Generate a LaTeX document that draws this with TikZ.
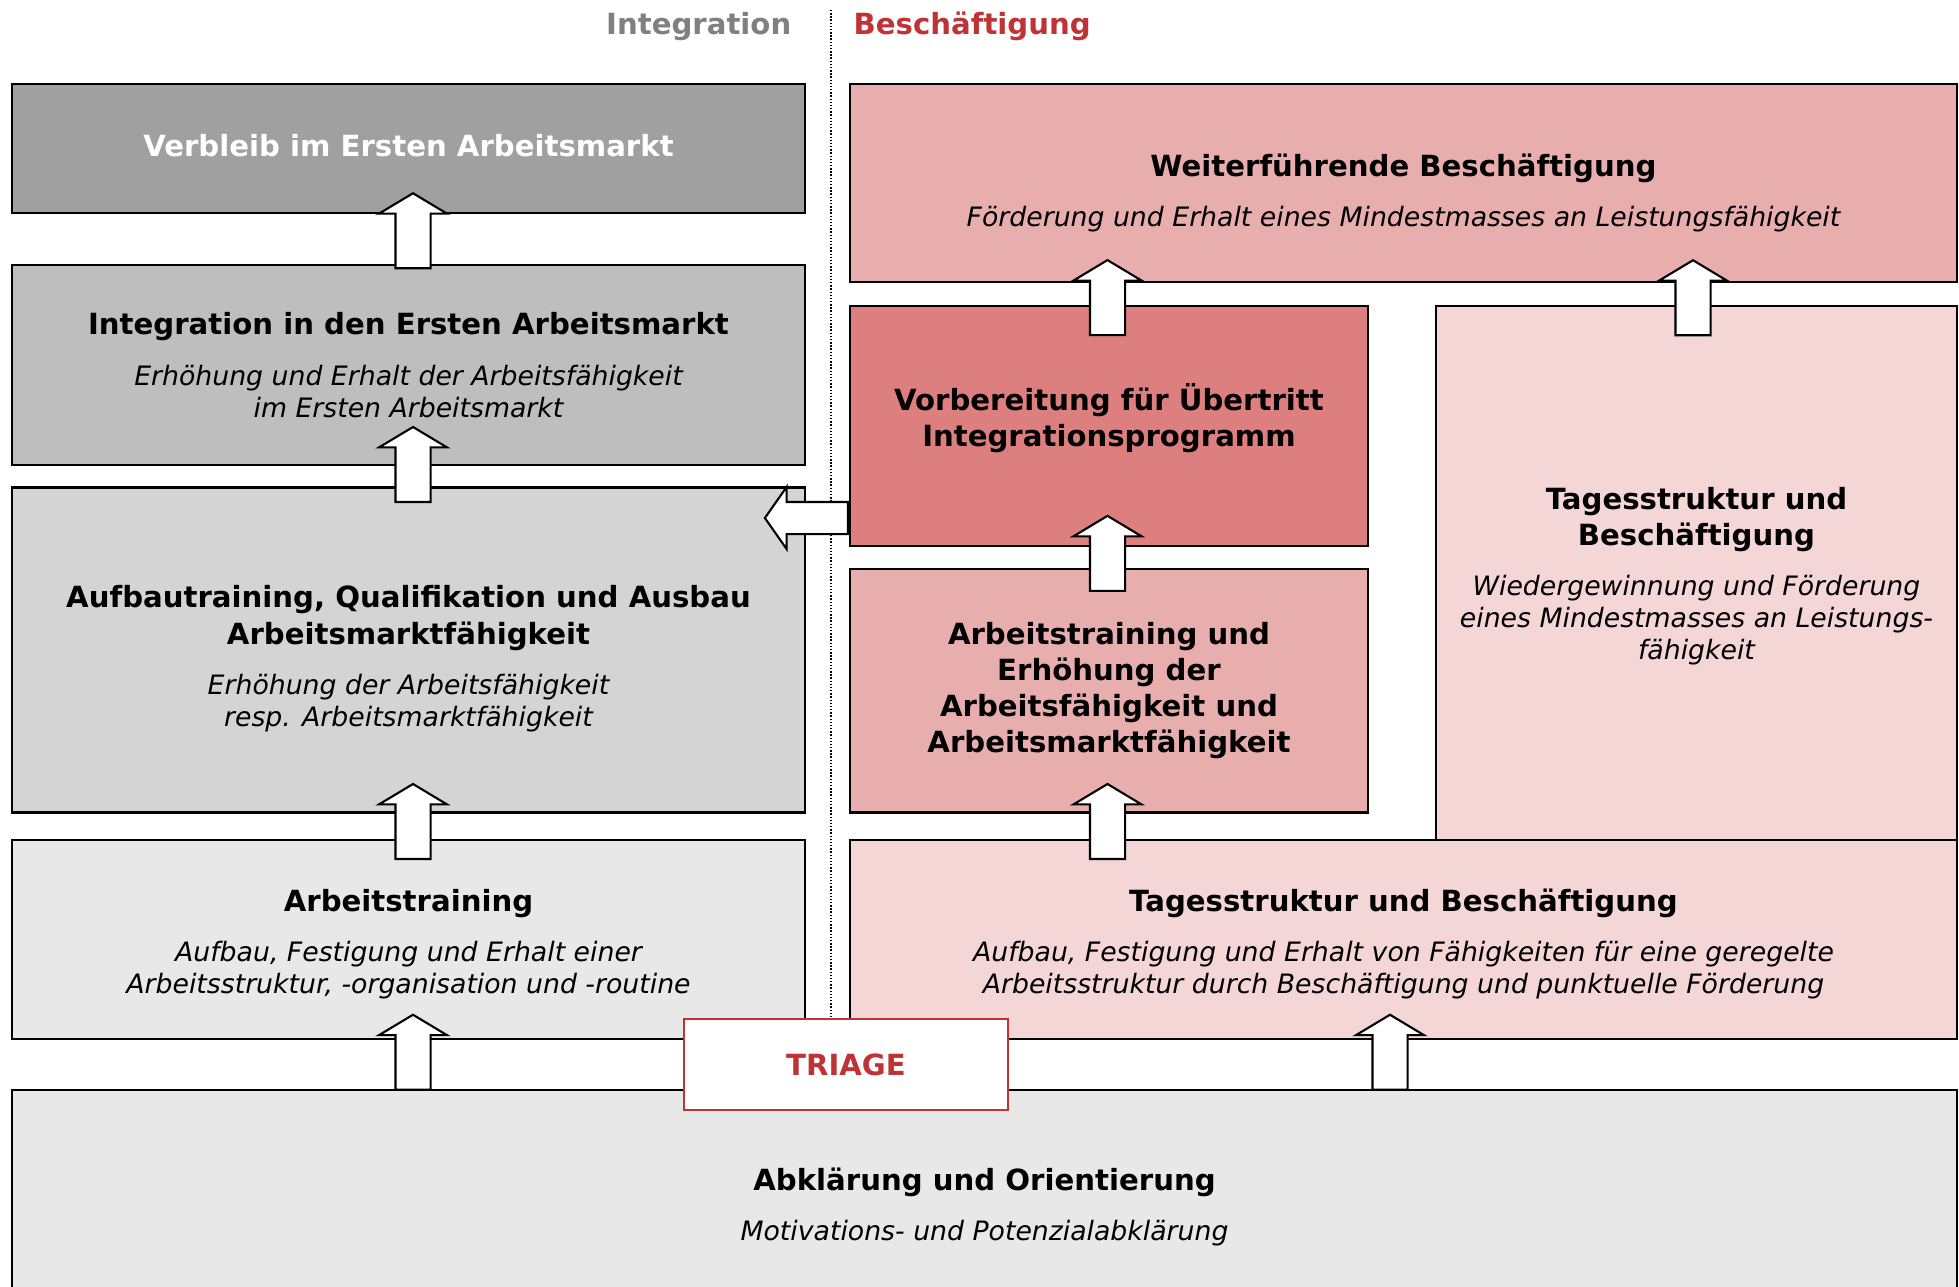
\documentclass[tikz,border=0pt]{standalone}
\usepackage{fontspec}
\setmainfont{DejaVu Sans}
\usepackage{xcolor}
\usetikzlibrary{shapes.arrows,calc}

\definecolor{grayA}{RGB}{160,160,160}
\definecolor{grayB}{RGB}{190,190,190}
\definecolor{grayC}{RGB}{212,212,212}
\definecolor{grayD}{RGB}{232,232,232}
\definecolor{roseA}{RGB}{220,127,126}
\definecolor{roseB}{RGB}{232,174,174}
\definecolor{roseC}{RGB}{244,214,215}
\definecolor{triagered}{RGB}{191,51,54}
\definecolor{headgray}{RGB}{128,128,128}

\newcommand{\titlefont}{\fontsize{8.3}{10.3}\selectfont\bfseries}
\newcommand{\sub}[1]{{\fontsize{7.6}{9.1}\selectfont\mdseries\itshape #1}}
% struts to move a text block inside its box
\newcommand{\topgap}[1]{\rule{0pt}{#1}}
\newcommand{\bottomgap}[1]{\rule[-#1]{0pt}{#1}}

\begin{document}
\begin{tikzpicture}[
	box/.style={rectangle,draw=black,line width=0.6pt,inner sep=0pt,align=center,font=\titlefont},
	uparrow/.style={single arrow,draw=black,fill=white,line width=0.6pt,rotate=90,
		minimum width=0pt,minimum height=0.75cm,inner xsep=0pt,inner ysep=0.165cm,
		single arrow head extend=0.165cm,single arrow tip angle=118},
	leftarrow/.style={single arrow,draw=black,fill=white,line width=0.6pt,rotate=180,
		minimum width=0pt,minimum height=0.83cm,inner xsep=0pt,inner ysep=0.15cm,
		single arrow head extend=0.15cm,single arrow tip angle=110}]

	% page size
	\clip (0cm,0cm) rectangle (19.59cm,12.86cm);

	% headings of the two columns
	\node[anchor=base east,inner sep=0pt,font=\titlefont,text=headgray] (headint) at (7.92cm,12.51cm) {Integration};
	\node[anchor=base west,inner sep=0pt,font=\titlefont,text=triagered] (headbes) at (8.53cm,12.51cm) {Beschäftigung};

	% dotted separator
	\coordinate (sep) at (8.31cm,12.76cm);

	% the integration column
	\node[box,fill=grayA,text=white,minimum width=7.93cm,minimum height=1.29cm] (verbleib) at (4.085cm,11.375cm)
		{Verbleib im Ersten Arbeitsmarkt\bottomgap{2pt}};
	\node[box,fill=grayB,minimum width=7.93cm,minimum height=2.00cm] (integr) at (4.085cm,9.21cm)
		{Integration in den Ersten Arbeitsmarkt\\[4pt]
		\sub{Erhöhung und Erhalt der Arbeitsfähigkeit}\\[-1.2pt]\sub{im Ersten Arbeitsmarkt}};
	\node[box,fill=grayC,minimum width=7.93cm,minimum height=3.25cm] (aufbau) at (4.085cm,6.36cm)
		{\topgap{11.3pt}Aufbautraining, Qualifikation und Ausbau\\Arbeitsmarktfähigkeit\\[4pt]
		\sub{Erhöhung der Arbeitsfähigkeit}\\[-1.2pt]\sub{resp. Arbeitsmarktfähigkeit}};
	\node[box,fill=grayD,minimum width=7.93cm,minimum height=1.99cm] (arbtr) at (4.085cm,3.465cm)
		{\topgap{9.1pt}Arbeitstraining\\[4pt]
		\sub{Aufbau, Festigung und Erhalt einer}\\[-1.2pt]\sub{Arbeitsstruktur, -organisation und -routine}};

	% the employment column
	\node[box,fill=roseB,minimum width=11.07cm,minimum height=1.98cm] (weiter) at (14.035cm,11.03cm)
		{\topgap{12pt}Weiterführende Beschäftigung\\[4pt]
		\sub{Förderung und Erhalt eines Mindestmasses an Leistungsfähigkeit}};
	\node[box,fill=roseA,minimum width=5.18cm,minimum height=2.405cm] (vorb) at (11.09cm,8.60cm)
		{Vorbereitung für Übertritt\\Integrationsprogramm\bottomgap{6.5pt}};
	\node[box,fill=roseB,minimum width=5.18cm,minimum height=2.435cm] (arbue) at (11.09cm,5.9525cm)
		{Arbeitstraining und\\Erhöhung der\\Arbeitsfähigkeit und\\Arbeitsmarktfähigkeit};
	\node[box,fill=roseC,minimum width=5.21cm,minimum height=5.34cm] (tagr) at (16.965cm,7.13cm)
		{\topgap{8pt}Tagesstruktur und\\Beschäftigung\\[4pt]
		\sub{Wiedergewinnung und Förderung}\\[-1.2pt]\sub{eines Mindestmasses an Leistungs-}\\[-1.2pt]\sub{fähigkeit}};
	\node[box,fill=roseC,minimum width=11.07cm,minimum height=1.99cm] (tagb) at (14.035cm,3.465cm)
		{\topgap{9.1pt}Tagesstruktur und Beschäftigung\\[4pt]
		\sub{Aufbau, Festigung und Erhalt von Fähigkeiten für eine geregelte}\\[-1.2pt]
		\sub{Arbeitsstruktur durch Beschäftigung und punktuelle Förderung}};

	% the common base
	\node[box,fill=grayD,minimum width=19.45cm,minimum height=2.34cm] (abkl) at (9.845cm,0.79cm)
		{Abklärung und Orientierung\\[4pt]
		\sub{Motivations- und Potenzialabklärung}};

	% triage
	\node[box,fill=white,draw=triagered,line width=0.5pt,text=triagered,minimum width=3.24cm,minimum height=0.91cm] (triage) at (8.46cm,2.215cm)
		{TRIAGE};
	\draw[line width=0.6pt,dash pattern=on 0.4pt off 0.5pt] (sep) -- (sep |- triage.north);

	% the arrows upwards
	\foreach \xnode/\from/\to/\dx/\dy in {
		verbleib/integr/verbleib/0.045/0.03,
		integr/aufbau/integr/0.045/0.065,
		aufbau/arbtr/aufbau/0.045/-0.005,
		arbtr/abkl/arbtr/0.045/0.07,
		tagb/abkl/tagb/-0.135/0.07,
		arbue/tagb/arbue/-0.015/-0.005,
		vorb/arbue/vorb/-0.015/-0.01,
		vorb/vorb/weiter/-0.015/-0.09,
		tagr/tagr/weiter/-0.035/-0.09}
		\node[uparrow] at ($(\xnode.center |- \from.north)!0.5!(\xnode.center |- \to.south)+(\dx,\dy)$) {};

	% the arrow to the left
	\node[leftarrow,anchor=tail] (back) at ([yshift=-0.92cm]vorb.west) {};
\end{tikzpicture}
\end{document}
